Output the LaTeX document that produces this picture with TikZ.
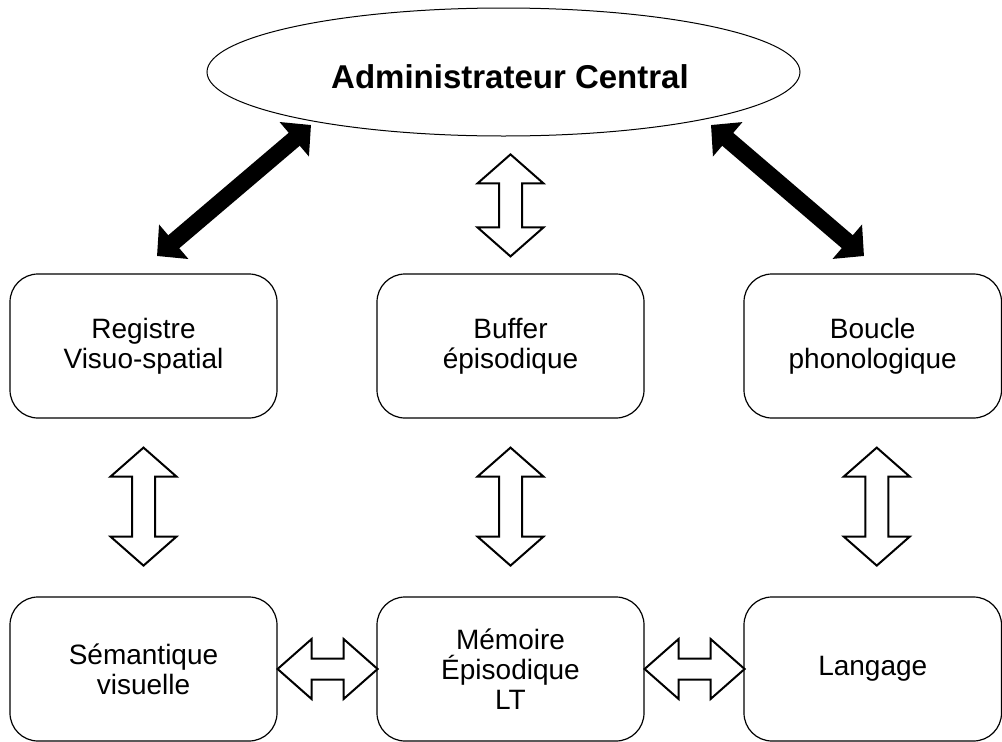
\documentclass[tikz,border=0pt]{standalone}
\usepackage{fontspec}
\setmainfont{Liberation Sans}
\usetikzlibrary{shapes.geometric,arrows.meta,calc}

\tikzset{
  box/.style={draw, line width=1.2pt, rounded corners=28pt, minimum height=144pt,
    inner sep=0pt, align=center, font=\fontsize{28}{30}\selectfont},
  admin/.style={draw, ellipse, line width=1pt, inner sep=0pt,
    minimum width=593pt, minimum height=128pt},
  hollow/.style={draw, line width=2pt, fill=white, line join=miter},
  bigarrow/.style={line width=17pt,
    {Triangle[length=22pt,width=44pt]}-{Triangle[length=22pt,width=44pt]}},
}

% vertical double hollow arrow: top tip, total length
\newcommand{\hollowVert}[2]{%
  \draw[hollow] (#1) -- ++(33,29) -- ++(-21.5,0) -- ++(0,{#2-58}) -- ++(21.5,0)
    -- ++(-33,29) -- ++(-33,-29) -- ++(21.5,0) -- ++(0,{58-#2}) -- ++(-21.5,0) -- cycle;}
% horizontal double hollow arrow: left tip, total length
\newcommand{\hollowHoriz}[2]{%
  \draw[hollow] (#1) -- ++(34,-30) -- ++(0,19.5) -- ++({#2-68},0) -- ++(0,-19.5)
    -- ++(34,30) -- ++(-34,30) -- ++(0,-19.5) -- ++({68-#2},0) -- ++(0,19.5) -- cycle;}

\begin{document}
\begin{tikzpicture}[x=1pt, y=-1pt]
  \useasboundingbox (0,0) rectangle (1002,742);

  % central executive
  \node[admin] (adm) at (503.5,72) {};
  \node[font=\fontsize{33}{35}\selectfont\bfseries] (admtxt) at (510,77) {Administrateur Central};

  % slave systems
  \node[box, minimum width=267pt] (reg) at (143.5,346) {Registre\\Visuo-spatial};
  \node[box, minimum width=267pt] (buf) at (510.5,346) {Buffer\\épisodique};
  \node[box, minimum width=257.5pt] (bou) at (872.75,346) {Boucle\\phonologique};

  % long-term stores
  \node[box, minimum width=267pt] (sem) at (143.5,669) {Sémantique\\visuelle};
  \node[box, minimum width=267pt] (mem) at (510.5,669) {Mémoire\\Épisodique\\LT};
  \node[box, minimum width=257.5pt] (lan) at (872.75,669) {Langage};

  % thick links to the central executive
  \coordinate (regTip) at (157,256);
  \coordinate (admL) at (311,125);
  \coordinate (admR) at (711,125);
  \coordinate (bouTip) at (864,256);
  \draw[bigarrow] (regTip) -- (admL);
  \draw[bigarrow] (admR) -- (bouTip);

  % hollow exchange arrows
  \hollowVert{$(buf.north)+(0,-119)$}{102}
  \hollowVert{$(reg.south)+(0,29)$}{118}
  \hollowVert{$(buf.south)+(0,29)$}{118}
  \hollowVert{$(bou.south)+(4,29)$}{118}
  \hollowHoriz{sem.east}{100}
  \hollowHoriz{mem.east}{100}
\end{tikzpicture}
\end{document}
